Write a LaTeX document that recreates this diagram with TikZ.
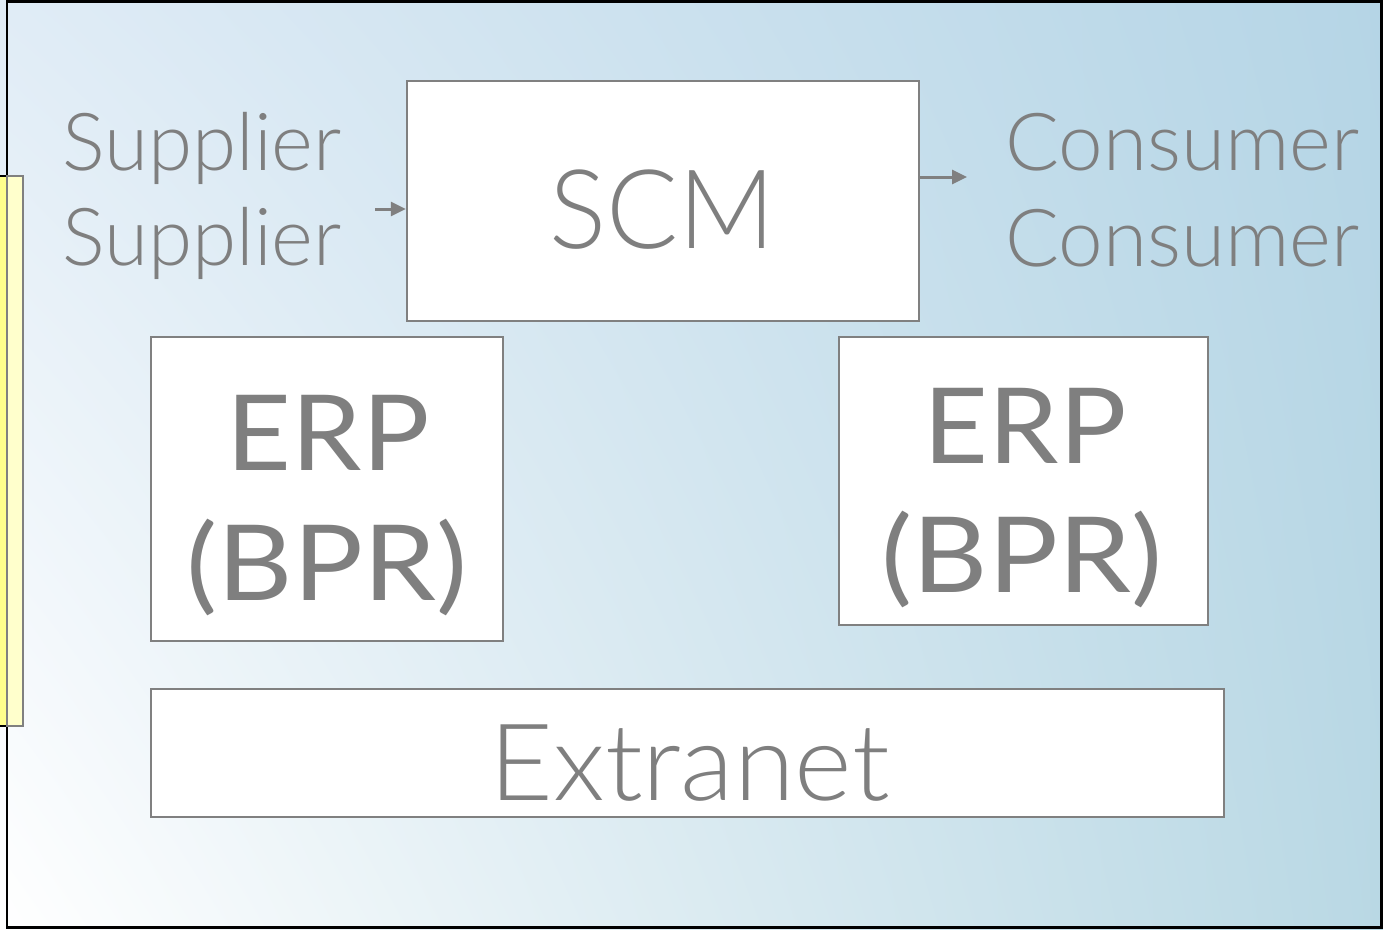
\documentclass[tikz,border=0pt]{standalone}
\usepackage{fontspec}
\setmainfont{Lato}[UprightFont={* Light}]
\newfontfamily\latoreg{Lato}
\usetikzlibrary{arrows.meta,shadings}
\definecolor{txtgray}{HTML}{7F7F7F}
\definecolor{bordergray}{HTML}{808080}
\definecolor{bgul}{RGB}{224,236,246}
\definecolor{bgur}{RGB}{181,213,230}
\definecolor{bgll}{RGB}{255,255,255}
\definecolor{bglr}{RGB}{185,216,228}
\definecolor{ybright}{RGB}{255,255,140}
\definecolor{ypale}{RGB}{255,255,204}
\tikzset{
  box/.style={draw=bordergray, line width=2.5pt, fill=white, inner sep=0pt},
  lbl/.style={text=txtgray, inner sep=0pt, anchor=base},
  lblw/.style={text=txtgray, inner sep=0pt, anchor=base west},
  erpf/.style={font=\latoreg\fontsize{105}{105}\selectfont},
  arr/.style={draw=bordergray, line width=3pt, -{Triangle[length=15pt,width=14pt]}},
}
\begin{document}
\begin{tikzpicture}[x=1pt,y=-1pt]
\useasboundingbox (0,0) rectangle (1383,929);
% background
\shade[upper left=bgul, upper right=bgur, lower left=bgll, lower right=bglr]
  (0,0) rectangle (1383,929);
% frame
\draw[black, line width=2.5pt] (7,1.5) rectangle (1381.5,927.5);
% yellow strip
\fill[ybright] (0,176) rectangle (7,726);
\draw[black, line width=2pt] (0,176) -- (7,176) (0,726) -- (7,726);
\filldraw[fill=ypale, draw=bordergray, line width=2pt] (7,176) rectangle (22.5,726);
% boxes
\node[box, minimum width=512pt, minimum height=240pt] (scmbox) at (663,201) {};
\node[box, minimum width=352pt, minimum height=304pt] (erp1) at (327,489) {};
\node[box, minimum width=369pt, minimum height=288pt] (erp2) at (1023.5,481) {};
\node[box, minimum width=1073pt, minimum height=128pt] (ext) at (687.5,753) {};
% texts
\node[lbl, font=\fontsize{110}{110}\selectfont] (scmt) at (662.5,248) {\scalebox{0.97}[1]{SCM}};
\node[lbl, erpf] (erp1a) at (328,470) {\scalebox{1.07}[1]{ERP}};
\node[lbl, erpf] (erp1b) at (327,600) {\scalebox{1.11}[1]{(BPR)}};
\node[lbl, erpf] (erp2a) at (1025,463) {\scalebox{1.07}[1]{ERP}};
\node[lbl, erpf] (erp2b) at (1022,592) {\scalebox{1.11}[1]{(BPR)}};
\node[lbl, font=\fontsize{107}{107}\selectfont] (extt) at (689.5,800) {\scalebox{1.03}[1]{Extranet}};
\node[lblw, font=\fontsize{80}{80}\selectfont] (sup1) at (62,170) {Supplier};
\node[lblw, font=\fontsize{80}{80}\selectfont] (sup2) at (62,265) {Supplier};
\node[lblw, font=\fontsize{80}{80}\selectfont] (con1) at (1005,170) {Consumer};
\node[lblw, font=\fontsize{80}{80}\selectfont] (con2) at (1005,266) {Consumer};
% arrows
\coordinate (a1s) at (375,209);
\coordinate (a2e) at (967,177);
\draw[arr] (a1s) -- (a1s -| scmbox.west);
\draw[arr] (a2e -| scmbox.east) -- (a2e);
\end{tikzpicture}
\end{document}
